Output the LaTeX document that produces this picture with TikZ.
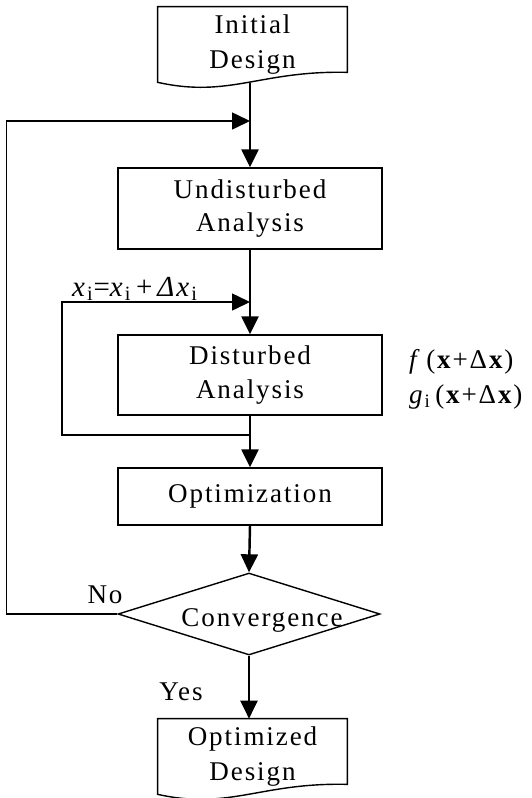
\documentclass[tikz,border=0pt]{standalone}
\usepackage{fontspec}
\setmainfont{Liberation Serif}
\newfontfamily\boxfont[LetterSpace=7]{Liberation Serif}
\usetikzlibrary{arrows.meta,shapes.geometric,calc}

\begin{document}
\begin{tikzpicture}[x=0.02cm, y=-0.02cm,
    proc/.style={draw, line width=0.8pt, minimum width=5.28cm, align=center,
      inner sep=0pt, font=\boxfont\fontsize{15.4}{19}\selectfont},
    docu/.style={minimum width=3.78cm, minimum height=1.5cm, align=center,
      inner sep=0pt, font=\boxfont\fontsize{15.4}{19.5}\selectfont},
    decide/.style={draw, diamond, line width=0.8pt, minimum width=5.24cm,
      minimum height=1.64cm, inner sep=0pt},
    lbl/.style={font=\boxfont\fontsize{15.4}{19}\selectfont},
    flow/.style={line width=1.4pt, -{Triangle[length=0.36cm, width=0.34cm]}},
    back/.style={line width=0.9pt, -{Triangle[length=0.36cm, width=0.34cm]}}]
  \useasboundingbox (0,0) rectangle (531,798);
  % Boxes
  \node[docu] (init) at (252.5,44.5) {Initial\\Design};
  \node[proc, minimum height=1.62cm] (und) at (250,208.5) {Undisturbed\\Analysis};
  \node[proc, minimum height=1.6cm] (dist) at (250,375) {Disturbed\\Analysis};
  \node[proc, minimum height=1.14cm] (opt) at (250,496.5) {Optimization};
  \node[decide] (conv) at (249,614) {};
  \node[lbl] (convtext) at (262,620) {Convergence};
  \node[docu] (fin) at (252.5,756.5) {Optimized\\Design};
  % Document outlines
  \draw[line width=0.8pt] (init.north west) -- (init.north east)
    -- ($(init.south east)+(0,-10)$) .. controls +(-87,-2) and +(72,16) ..
    coordinate[pos=0.5] (initout) (init.south west) -- cycle;
  \draw[line width=0.8pt] (fin.north west) -- (fin.north east)
    -- ($(fin.south east)+(0,-10)$) .. controls +(-87,-2) and +(72,16) ..
    (fin.south west) -- cycle;
  % Main flow
  \draw[flow] (initout -| und.north) -- (und.north);
  \draw[flow] (und.south) -- (dist.north);
  \draw[flow] (dist.south) -- (opt.north);
  \draw[flow] (opt.south) -- (conv.north);
  \draw[flow] (conv.south) -- (conv.south |- fin.north);
  % Loops
  \coordinate (join1) at (250,121);
  \coordinate (join2) at (250,302);
  \coordinate (split) at (250,435);
  \draw[back] (conv.west) -- ++(-111,0) |- (join1);
  \draw[back] (split) -- ++(-188,0) |- (join2);
  % Labels
  \node[lbl] (no) at (105,595) {No};
  \node[lbl] (yes) at (181,692) {Yes};
  \node[lbl, font=\boxfont\fontsize{16.5}{19}\selectfont] (update) at (135,289)
    {\textit{x}\textsubscript{i}=\textit{x}\textsubscript{i}\,+\,\textit{Δx}\textsubscript{i}};
  \node[lbl, anchor=west] (fval) at (403,362) {\textit{f}\,(\textbf{x}+Δ\textbf{x})};
  \node[lbl, anchor=west] (gval) at (403,397) {\textit{g}\textsubscript{i}\,(\textbf{x}+Δ\textbf{x})};
\end{tikzpicture}
\end{document}
